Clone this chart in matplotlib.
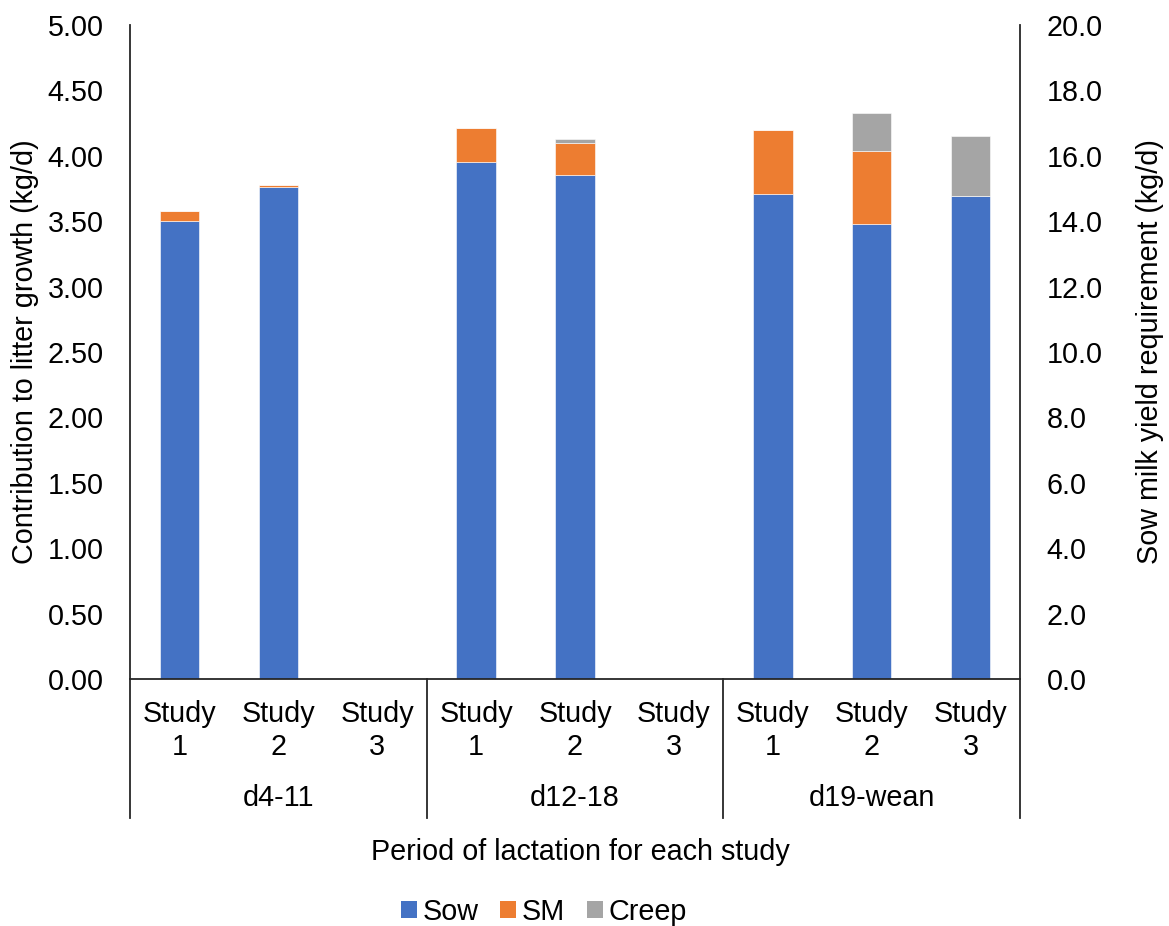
import matplotlib
matplotlib.use("Agg")
import matplotlib.pyplot as plt
from matplotlib.lines import Line2D
from matplotlib.patches import Patch
from matplotlib.ticker import FormatStrFormatter, MultipleLocator

plt.rcParams['font.family'] = ['Liberation Sans', 'DejaVu Sans']

periods = ["d4-11", "d12-18", "d19-wean"]
studies = ["Study\n1", "Study\n2", "Study\n3"]

# Contribution to litter growth (kg/d) for each period x study slot
sow = [3.50, 3.76, 0.0, 3.95, 3.855, 0.0, 3.71, 3.475, 3.695]
sm = [0.08, 0.02, 0.0, 0.26, 0.245, 0.0, 0.485, 0.56, 0.0]
creep = [0.0, 0.0, 0.0, 0.0, 0.025, 0.0, 0.0, 0.29, 0.455]

series_names = ["Sow", "SM", "Creep"]
colors = ["#4472C4", "#ED7D31", "#A5A5A5"]

W, H = 1169, 926
fig = plt.figure(figsize=(W / 100, H / 100), dpi=100)
left, right, top, bottom = 130, 1020, 25, 679
ax = fig.add_axes([left / W, (H - bottom) / H, (right - left) / W, (bottom - top) / H])

x = list(range(len(sow)))
bw = 0.4
base = [0.0] * len(sow)
for vals, c in zip([sow, sm, creep], colors):
    ax.bar(x, vals, bw, bottom=base, color=c, edgecolor="white", linewidth=0.4, zorder=2)
    base = [b + v for b, v in zip(base, vals)]

ax.set_xlim(-0.5, len(sow) - 0.5)
ax.set_ylim(0, 5.0)
ax.yaxis.set_major_locator(MultipleLocator(0.5))
ax.yaxis.set_major_formatter(FormatStrFormatter("%.2f"))
ax.set_xticks([])

ax2 = ax.twinx()
ax2.set_ylim(0, 20.0)
ax2.yaxis.set_major_locator(MultipleLocator(2.0))
ax2.yaxis.set_major_formatter(FormatStrFormatter("%.1f"))

fs = 20.7
spine_col = "#262626"
for a in (ax, ax2):
    for s in a.spines.values():
        s.set_visible(False)
    a.tick_params(axis="y", length=0, labelsize=fs, pad=19, colors="black")
for a, side in ((ax, "left"), (ax2, "right"), (ax, "bottom")):
    a.spines[side].set_visible(True)
    a.spines[side].set_color(spine_col)
    a.spines[side].set_linewidth(1.3)

ax.set_ylabel("Contribution to litter growth (kg/d)", fontsize=fs, labelpad=6)
ax2.set_ylabel("Sow milk yield requirement (kg/d)", fontsize=fs, labelpad=24)

# Two-level category axis
trans = ax.get_xaxis_transform()
axes_h = bottom - top
def ay(py):
    return (bottom - py) / axes_h

for i in x:
    lbl = studies[i % 3].split("\n")
    ax.text(i, ay(714), lbl[0], transform=trans, ha="center", va="center",
            fontsize=fs, clip_on=False)
    ax.text(i, ay(747), lbl[1], transform=trans, ha="center", va="center",
            fontsize=fs, clip_on=False)

for g, name in enumerate(periods):
    ax.text(g * 3 + 1, ay(798), name, transform=trans, ha="center", va="center",
            fontsize=fs, clip_on=False)

for xs in [-0.5, 2.5, 5.5, 8.5]:
    ax.add_line(Line2D([xs, xs], [0, ay(818)], transform=trans, color=spine_col,
                       linewidth=1.3, clip_on=False))

fig.text(580 / W, 1 - 852 / H, "Period of lactation for each study",
         ha="center", va="center", fontsize=fs)

handles = [Patch(facecolor=c, edgecolor="none") for c in colors]
fig.legend(handles, series_names, loc="center", bbox_to_anchor=(544 / W, 1 - 912 / H),
           ncol=3, frameon=False, fontsize=fs, handlelength=0.55, handleheight=0.55,
           handletextpad=0.2, columnspacing=0.75)

fig.savefig("out.png", dpi=100)
